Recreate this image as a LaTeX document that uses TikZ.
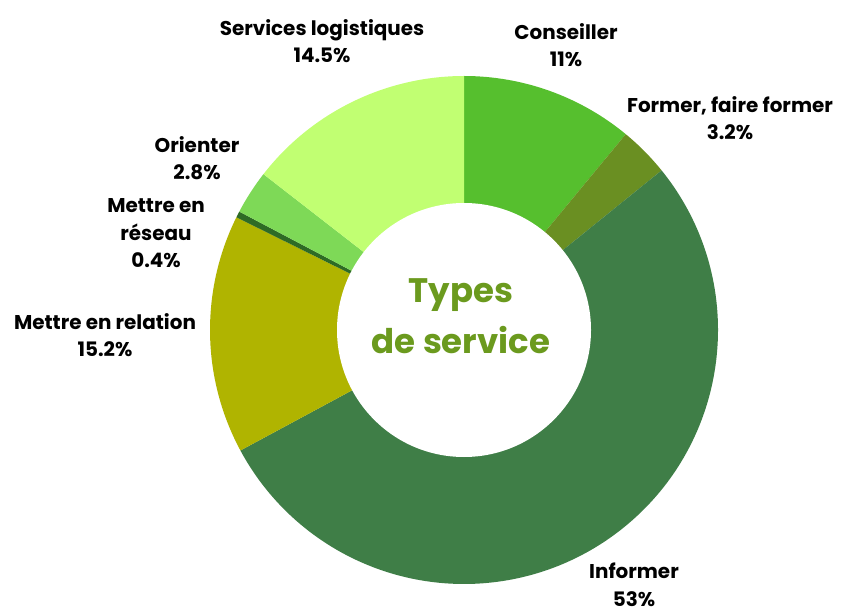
\documentclass[tikz,border=0pt]{standalone}
\usepackage{fontspec}
\setmainfont{Poppins}
\definecolor{cConseil}{HTML}{56BF2E}
\definecolor{cFormer}{HTML}{6A8F22}
\definecolor{cInform}{HTML}{3F7E47}
\definecolor{cRelation}{HTML}{B0B400}
\definecolor{cReseau}{HTML}{2E6B25}
\definecolor{cOrient}{HTML}{7ED957}
\definecolor{cServ}{HTML}{C1FF72}
\definecolor{cTitle}{HTML}{6B9A1E}
\begin{document}
\begin{tikzpicture}[x=0.03cm,y=0.03cm,
  lab/.style={font=\fontsize{17}{23.8}\selectfont\bfseries, align=center, anchor=base, inner sep=0pt, text=black},
  ttl/.style={font=\fontsize{29}{44.2}\selectfont\bfseries, align=center, anchor=base, inner sep=0pt, text=cTitle}]
\useasboundingbox[fill=white] (0,0) rectangle (845,612);
\coordinate (C) at (464,282);
\def\slice#1#2#3{\fill[#3] (C) -- ++(#1:254) arc[start angle=#1, end angle=#2, radius=254] -- cycle;}
\slice{90}{50.44}{cConseil}
\slice{50.44}{38.93}{cFormer}
\slice{38.93}{-151.68}{cInform}
\slice{-151.68}{-206.34}{cRelation}
\slice{-206.34}{-207.78}{cReseau}
\slice{-207.78}{-217.85}{cOrient}
\slice{-217.85}{-270}{cServ}
\fill[white] (C) circle[radius=127];
\node[ttl] (title) at (461,258) {Types\\de service};
\node[lab] (serv) at (322,549) {Services logistiques\\14.5\%};
\node[lab] (orient) at (197,432) {Orienter\\2.8\%};
\node[lab] (reseau) at (156,344) {Mettre en\\réseau\\0.4\%};
\node[lab] (relation) at (105,255) {Mettre en relation\\15.2\%};
\node[lab] (conseil) at (566,545) {Conseiller\\11\%};
\node[lab] (former) at (730,472) {Former, faire former\\3.2\%};
\node[lab] (inform) at (634,6) {Informer\\53\%};
\end{tikzpicture}
\end{document}
